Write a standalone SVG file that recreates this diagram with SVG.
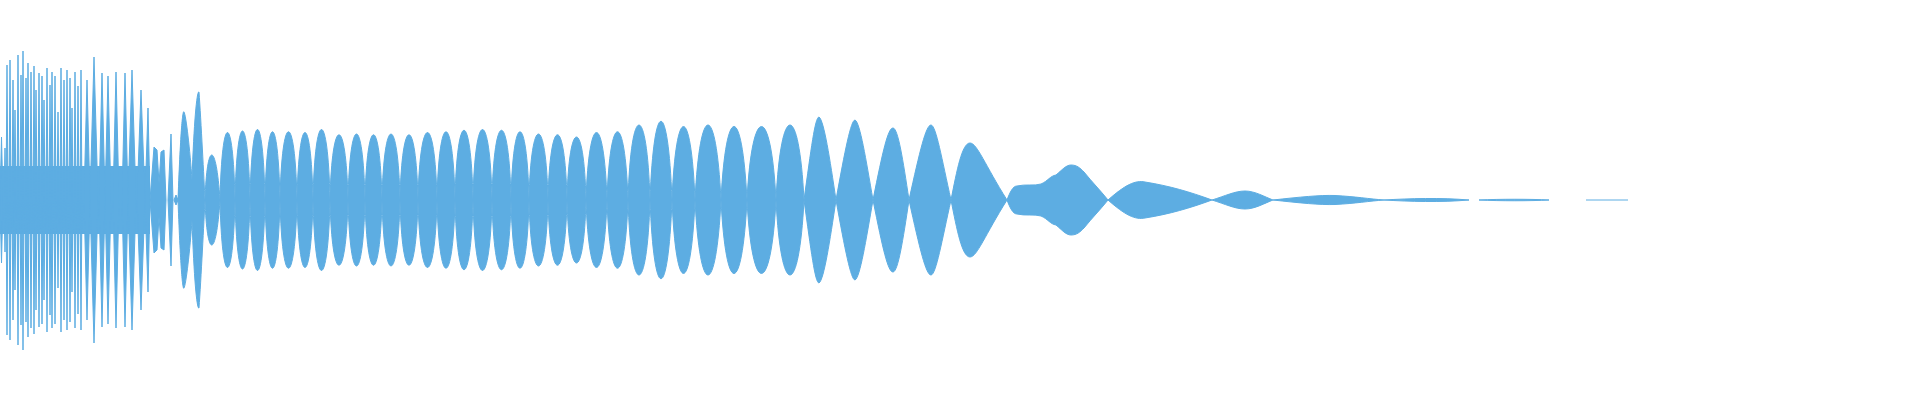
<svg xmlns="http://www.w3.org/2000/svg" width="1920" height="400" viewBox="0 0 1920 400">
<style>.w{fill:#5dade2;stroke:#5dade2;stroke-width:1}</style>
<rect width="1920" height="400" fill="#fff"/>
<g class="w">
<rect x="0" y="166" width="150" height="68" stroke="none"/>
<path d="M0,200 L1.5,137 L3,200 L1.5,263Z M4,200 L5,148 L6,200 L5,252Z M6,200 L7,65 L8,200 L7,335Z M9,200 L10,60 L11,200 L10,340Z M12,200 L13,80 L14,200 L13,320Z M14,200 L15,110 L16,200 L15,290Z M17,200 L18,55 L19,200 L18,345Z M20,200 L21,75 L22,200 L21,325Z M22,200 L23,51 L24,200 L23,350Z M25,200 L26,78 L27,200 L26,322Z M27,200 L28,63 L29,200 L28,337Z M30,200 L31,72 L32,200 L31,328Z M33,200 L34,66 L35,200 L34,334Z M35,200 L36,90 L37,200 L36,310Z M38,200 L39,73 L40,200 L39,327Z M41,200 L42,76 L43,200 L42,324Z M43,200 L44,100 L45,200 L44,300Z M46,200 L47,68 L48,200 L47,332Z M49,200 L50,85 L51,200 L50,315Z M51,200 L52,72 L53,200 L52,328Z M54,200 L55,76 L56,200 L55,324Z M57,200 L58,112 L59,200 L58,288Z M60,200 L61,68 L62,200 L61,332Z M63,200 L64,80 L65,200 L64,320Z M66,200 L67,70 L68,200 L67,330Z M69,200 L70,78 L71,200 L70,322Z M71,200 L72,108 L73,200 L72,292Z M74,200 L75,72 L76,200 L75,328Z M77,200 L78,86 L79,200 L78,314Z M80,200 L81,70 L82,200 L81,330Z M84,200 L87,80 L90,200 L87,320Z M90,200 L94,57 L98,200 L94,343Z M99,200 L102,73 L105,200 L102,327Z M105,200 L108,76 L111,200 L108,324Z M113,200 L116,72 L119,200 L116,328Z M122,200 L125,73 L128,200 L125,327Z M128,200 L132,70 L136,200 L132,330Z M137,200 L141,90 L145,200 L141,310Z M145,200 L148,108 L150,200 L148,292Z"/>
<path d="M150,200 L154,147 L157,150 L160,200 L157,250 L154,253Z M158,200 L161,152 L164,150 L166,200 L164,250 L161,248Z M168,200 L171,134 L173,200 L171,266Z M174,200 L176,195 L178,200 L176,205Z"/>
</g>
<g class="w">
<path d="M178,200 C181,120 183,110 184,112 C186,115 190,150 192,180 C194,120 197,90 199,92 C201,120 204,180 205,200 C204,220 201,280 199,308 C197,310 194,280 192,220 C190,250 186,285 184,288 C183,290 181,280 178,200Z"/>
</g>
<g class="w">
<path d="M1007,200 C1010,192 1013,186 1017,186 C1025,184 1035,186 1041,184 C1048,181 1050,176 1056,175 C1062,170 1066,165 1071,165 C1077,165 1080,168 1084,172 C1092,182 1100,190 1108,200 C1100,210 1092,218 1084,228 C1080,232 1077,235 1071,235 C1066,235 1062,230 1056,225 C1050,224 1048,219 1041,216 C1035,214 1025,216 1017,214 C1013,214 1010,208 1007,200Z"/>
<path d="M1108,200 C1125,185 1135,180 1145,182 C1170,186 1190,192 1212,200 C1190,208 1170,214 1145,218 C1135,220 1125,215 1108,200Z"/>
<path d="M1212,200 C1225,196 1235,191 1245,191 C1255,191 1265,197 1273,200 C1265,203 1255,209 1245,209 C1235,209 1225,204 1212,200Z"/>
<path d="M1273,200 C1300,197 1320,195 1335,195.5 C1355,196.5 1370,199 1384,200 C1370,201 1355,203.5 1335,204.5 C1320,205 1300,203 1273,200Z"/>
<path d="M1384,200 C1410,198.5 1440,197.5 1469,200 C1440,202.5 1410,201.5 1384,200Z"/>
<path d="M1479,200 C1500,199 1530,199 1549,200 C1530,201 1500,201 1479,200Z"/>
<path d="M1586,200 L1628,200" fill="none"/>
</g>
<g class="w">
<path d="M205,200C207,140 216,140 220,200C216,260 207,260 205,200Z M220,200C222,110 233,110 235,200C233,290 222,290 220,200Z M235,200C237,108 248,108 250,200C248,292 237,292 235,200Z M250,200C252,106 263,106 265,200C263,294 252,294 250,200Z M265,200C267,109 278,109 280,200C278,291 267,291 265,200Z M280,200C282,109 295,109 297,200C295,291 282,291 280,200Z M297,200C299,110 311,110 313,200C311,290 299,290 297,200Z M313,200C315,106 328,106 330,200C328,294 315,294 313,200Z M330,200C332,113 346,113 348,200C346,287 332,287 330,200Z M348,200C350,112 363,112 365,200C363,288 350,288 348,200Z M365,200C367,113 380,113 382,200C380,287 367,287 365,200Z M382,200C384,112 398,112 400,200C398,288 384,288 382,200Z M400,200C402,113 416,113 418,200C416,287 402,287 400,200Z M418,200C420,110 435,110 437,200C435,290 420,290 418,200Z M437,200C439,109 453,109 455,200C453,291 439,291 437,200Z M455,200C457,107 471,107 473,200C471,293 457,293 455,200Z M473,200C475,106 490,106 492,200C490,294 475,294 473,200Z M492,200C494,107 509,107 511,200C509,293 494,293 492,200Z M511,200C513,109 527,109 529,200C527,291 513,291 511,200Z M529,200C531,112 546,112 548,200C546,288 531,288 529,200Z M548,200C550,113 565,113 567,200C565,287 550,287 548,200Z M567,200C569,116 584,116 586,200C584,284 569,284 567,200Z M586,200C589,110 604,110 607,200C604,290 589,290 586,200Z M607,200C610,109 625,109 628,200C625,291 610,291 607,200Z M628,200C631,100 647,100 650,200C647,300 631,300 628,200Z M650,200C654,95 668,95 672,200C668,305 654,305 650,200Z M672,200C676,102 691,102 695,200C691,298 676,298 672,200Z M695,200C700,100 716,100 721,200C716,300 700,300 695,200Z M721,200C726,102 742,102 747,200C742,298 726,298 721,200Z M747,200C752,102 771,102 776,200C771,298 752,298 747,200Z M776,200C781,100 799,100 804,200C799,300 781,300 776,200Z M804,200C811,150 815,117 819,117C824,120 830,160 836,200C830,240 824,280 819,283C815,283 811,250 804,200Z M836,200C845,150 851,120 855,120C860,122 866,160 873,200C866,240 860,278 855,280C851,280 845,250 836,200Z M873,200C883,150 888,128 893,128C898,128 903,160 909,200C903,240 898,272 893,272C888,272 883,250 873,200Z M909,200C920,150 926,125 931,125C936,125 942,160 951,200C942,240 936,275 931,275C926,275 920,250 909,200Z M951,200C957,170 962,143 970,143C977,143 985,165 1007,200C985,235 977,257 970,257C962,257 957,230 951,200Z"/>
</g>
</svg>
